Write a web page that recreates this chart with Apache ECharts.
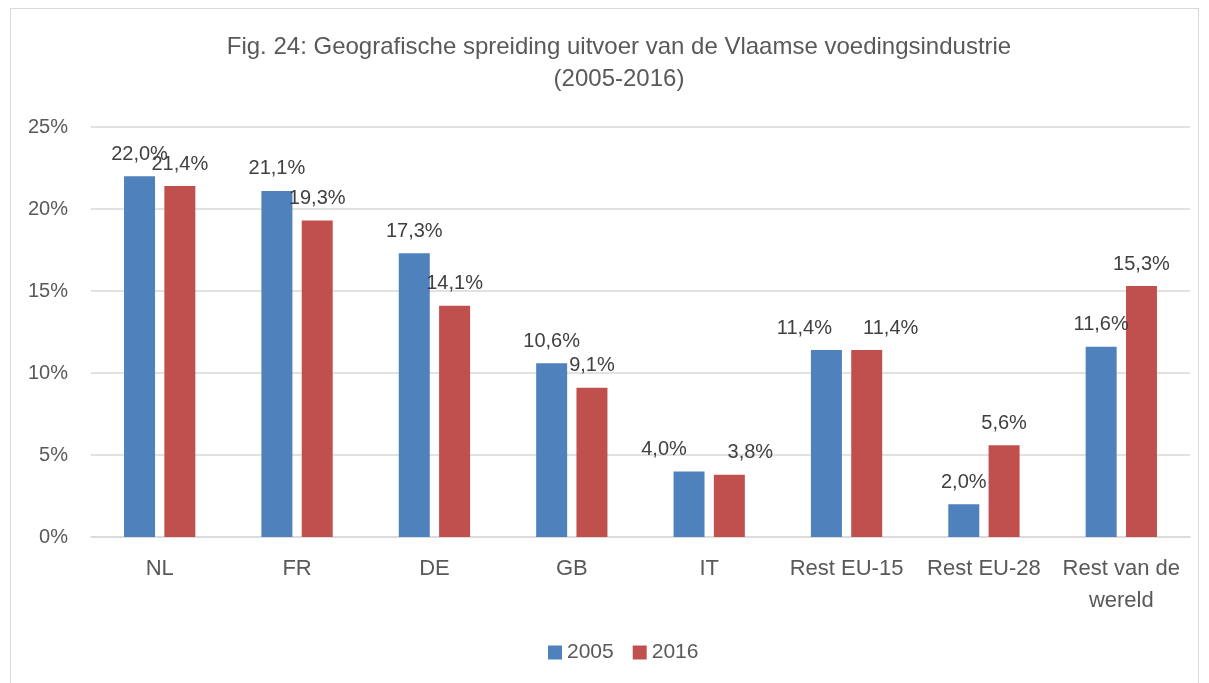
<!DOCTYPE html>
<html>
<head>
<meta charset="utf-8">
<script src="https://cdn.jsdelivr.net/npm/echarts@6/dist/echarts.min.js"></script>
<style>
  html, body { margin: 0; padding: 0; background: #fff; }
  #frame {
    position: absolute; left: 10px; top: 8px; width: 1189px; height: 690px;
    border: 1px solid #d9d9d9; box-sizing: border-box;
  }
  #chart { position: absolute; left: 0; top: 0; width: 1209px; height: 683px; }
</style>
</head>
<body>
<div id="frame"></div>
<div id="chart"></div>
<script>
// gegevens
const categories = ['NL', 'FR', 'DE', 'GB', 'IT', 'Rest EU-15', 'Rest EU-28', 'Rest van de\nwereld']
const values2005 = [22.0, 21.1, 17.3, 10.6, 4.0, 11.4, 2.0, 11.6]
const values2016 = [21.4, 19.3, 14.1, 9.1, 3.8, 11.4, 5.6, 15.3]
const yTicks = [0, 5, 10, 15, 20, 25]

const FONT = '"Liberation Sans", Arial, sans-serif'
const TEXT = '#595959'

// in het origineel zijn enkele labels opzij geschoven (px, per categorie-index)
const shift2005 = { 4: -25, 5: -22 }
const shift2016 = { 4: 21, 5: 24 }

const chart = echarts.init(document.getElementById('chart'))

function pct(p) {
  return p.value.toFixed(1).replace('.', ',') + '%'
}

const barLabel = {
  show: true,
  position: 'top',
  distance: 12,
  formatter: pct,
  color: '#404040',
  fontFamily: FONT,
  fontSize: 20
}

function withShift(values, shift) {
  return values.map((v, i) => shift[i]
    ? { value: v, label: { offset: [shift[i], 0] } }
    : v)
}

chart.setOption({
  animation: false,
  title: {
    text: 'Fig. 24: Geografische spreiding uitvoer van de Vlaamse voedingsindustrie\n(2005-2016)',
    left: 614,
    top: 26,
    textAlign: 'center',
    textStyle: {
      fontFamily: FONT,
      fontSize: 24,
      fontWeight: 'normal',
      color: TEXT,
      lineHeight: 32
    }
  },
  legend: {
    data: ['2005', '2016'],
    bottom: 15,
    left: 543,
    itemWidth: 14,
    itemHeight: 14,
    itemGap: 19,
    icon: 'rect',
    textStyle: { fontFamily: FONT, fontSize: 21, color: TEXT }
  },
  grid: {
    left: 91,
    right: 19,
    top: 127,
    bottom: 146
  },
  xAxis: {
    type: 'category',
    data: categories,
    axisTick: { show: false },
    axisLine: { lineStyle: { color: '#d9d9d9', width: 1.5 } },
    axisLabel: {
      fontFamily: FONT,
      fontSize: 22,
      color: TEXT,
      margin: 16,
      lineHeight: 32,
      interval: 0
    }
  },
  yAxis: {
    type: 'value',
    min: yTicks[0],
    max: yTicks[yTicks.length - 1],
    interval: 5,
    axisLine: { show: false },
    axisTick: { show: false },
    splitLine: { lineStyle: { color: '#d9d9d9', width: 1.5 } },
    axisLabel: {
      formatter: '{value}%',
      fontFamily: FONT,
      fontSize: 20,
      color: TEXT,
      margin: 23
    }
  },
  series: [
    {
      name: '2005',
      type: 'bar',
      data: withShift(values2005, shift2005),
      barWidth: 31,
      barGap: '30%',
      itemStyle: { color: '#4f81bd' },
      label: barLabel
    },
    {
      name: '2016',
      type: 'bar',
      data: withShift(values2016, shift2016),
      barWidth: 31,
      itemStyle: { color: '#c0504d' },
      label: barLabel
    }
  ]
})
</script>
</body>
</html>
